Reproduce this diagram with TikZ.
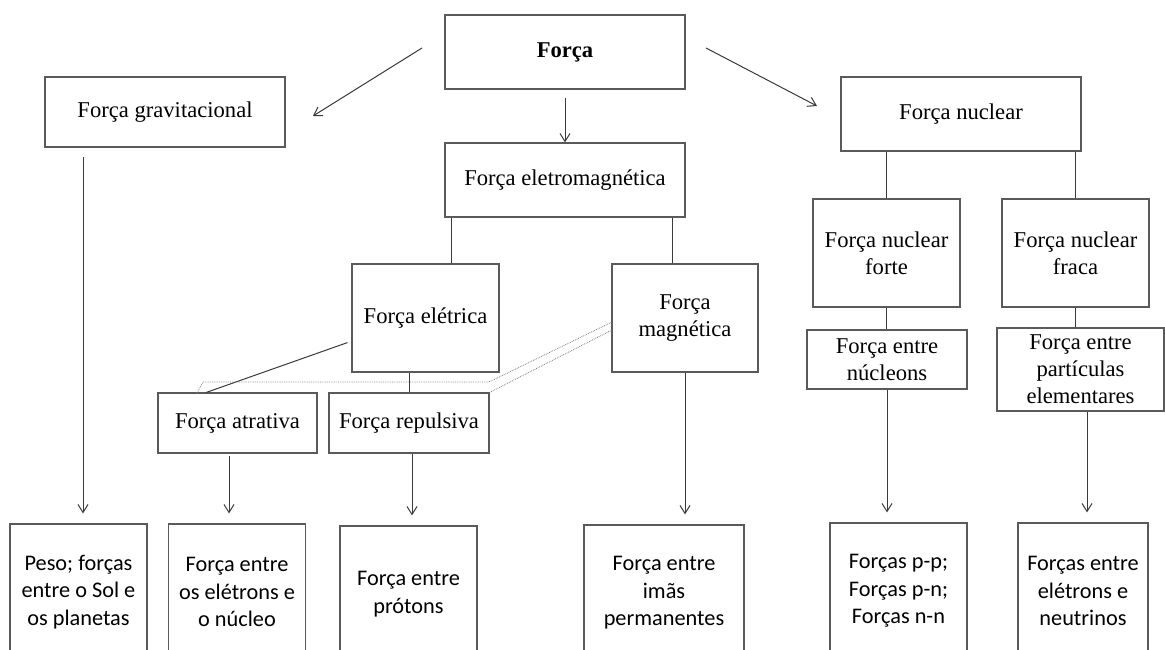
\documentclass[tikz,border=0pt]{standalone}
\usepackage{fontspec}
\setmainfont{Liberation Serif}
\newfontfamily\carl{Carlito}
\usetikzlibrary{arrows.meta,calc}
\definecolor{boxgray}{HTML}{5A5A5A}
\definecolor{linegray}{HTML}{3A3A3A}
\begin{document}
\begin{tikzpicture}[x=1pt,y=-1pt,
  box/.style={draw=boxgray,line width=1.2pt,align=center,inner sep=0pt,font=\fontsize{22.6}{27}\selectfont},
  sbox/.style={draw=boxgray,line width=1.2pt,align=center,inner sep=0pt,font=\carl\fontsize{22.3}{27.5}\selectfont,minimum width=137pt,minimum height=136pt},
  conn/.style={draw=linegray,line width=1pt},
  arr/.style={conn,-{Straight Barb[length=8pt,width=10pt]}},
  dotline/.style={draw=gray,line width=0.8pt,densely dotted}]
\useasboundingbox (0,0) rectangle (1165,650);
\clip (0,0) rectangle (1165,650);
\fill[white] (0,0) rectangle (1165,650);

% upper boxes
\node[box,minimum width=240pt,minimum height=74pt,font=\bfseries\fontsize{22.6}{27}\selectfont] (forca) at (565,52) {Força};
\node[box,minimum width=240pt,minimum height=70pt] (grav) at (165,112) {Força gravitacional};
\node[box,minimum width=240pt,minimum height=74pt] (eletromag) at (565,180) {Força eletromagnética};
\node[box,minimum width=240pt,minimum height=74pt] (nuclear) at (961,114) {Força nuclear};
\node[box,minimum width=147pt,minimum height=108pt] (eletrica) at (425.5,318) {Força elétrica};
\node[box,minimum width=146pt,minimum height=108pt] (magnetica) at (685,318) {Força\\magnética};
\node[box,minimum width=147pt,minimum height=108pt] (forte) at (886.5,253) {Força nuclear\\forte};
\node[box,minimum width=147pt,minimum height=108pt] (fraca) at (1075.5,253) {Força nuclear\\fraca};
\node[box,minimum width=160pt,minimum height=59pt] (nucleons) at (887,359.5) {Força entre\\núcleons};
\node[box,minimum width=167pt,minimum height=83pt] (particulas) at (1080.5,369.5) {Força entre\\partículas\\elementares};
\node[box,minimum width=159pt,minimum height=60pt] (atrativa) at (237.5,423) {Força atrativa};
\node[box,minimum width=160pt,minimum height=60pt] (repulsiva) at (409,423) {Força repulsiva};

% bottom boxes
\node[sbox] (peso) at (78.5,592) {Peso; forças\\entre o Sol e\\os planetas};
\node[sbox] (eletrons) at (237,592) {Força entre\\os elétrons e\\o núcleo};
\node[sbox] (protons) at (408.5,594) {Força entre\\prótons};
\node[sbox,minimum width=160pt] (imas) at (664,593) {Força entre\\imãs\\permanentes};
\node[sbox] (pp) at (898.5,591) {Forças p-p;\\Forças p-n;\\Forças n-n};
\node[sbox,minimum width=130pt] (neutrinos) at (1083,591) {Forças entre\\elétrons e\\neutrinos};

% connectors
\coordinate (fg1) at (422,48);
\coordinate (fg2) at (313,116);
\draw[arr] (fg1) -- (fg2);
\coordinate (fn1) at (706,48);
\coordinate (fn2) at (817,106);
\draw[arr] (fn1) -- (fn2);
\draw[arr] ([yshift=-8pt]forca.south) -- (eletromag.north);

\coordinate (g1) at (83,157);
\draw[arr,shorten >=10pt] (g1) -- (g1 |- peso.north);

\draw[conn] ([xshift=7pt]eletromag.south west) -- ([xshift=7pt]eletromag.south west |- eletrica.north);
\draw[conn] ([xshift=-13pt]eletromag.south east) -- ([xshift=-13pt]eletromag.south east |- magnetica.north);

\draw[conn] ([xshift=-4pt,yshift=30pt]eletrica.south west) -- ([xshift=49pt]atrativa.north west);
\draw[conn] (eletrica.south -| repulsiva.north) -- (repulsiva.north);

\coordinate (t1) at (229,456);
\draw[arr,shorten >=10pt] (t1) -- (t1 |- eletrons.north);
\draw[arr,shorten >=10pt] ([xshift=3pt]repulsiva.south) -- ([xshift=3pt]repulsiva.south |- protons.north);
\draw[arr,shorten >=10pt] (magnetica.south) -- (magnetica.south |- imas.north);

\draw[conn] (forte.north |- nuclear.south) -- (forte.north);
\draw[conn] (fraca.north |- nuclear.south) -- (fraca.north);
\draw[conn] (forte.south) -- (forte.south |- nucleons.north);
\draw[conn] (fraca.south) -- (fraca.south |- particulas.north);
\draw[arr,shorten >=10pt] (nucleons.south) -- (nucleons.south |- pp.north);
\draw[arr,shorten >=10pt] ([xshift=6.5pt]particulas.south) -- ([xshift=6.5pt]particulas.south |- neutrinos.north);

% dotted double line
\coordinate (d0) at (197,393);
\coordinate (d1) at (203,382);
\coordinate (d2) at (489,382);
\coordinate (d3) at (612,322);
\coordinate (d5) at (612,330);
\draw[dotline] (d0) -- (d1) -- (d2) -- (d3);
\draw[dotline] (repulsiva.north east) -- (d5);
\end{tikzpicture}
\end{document}
